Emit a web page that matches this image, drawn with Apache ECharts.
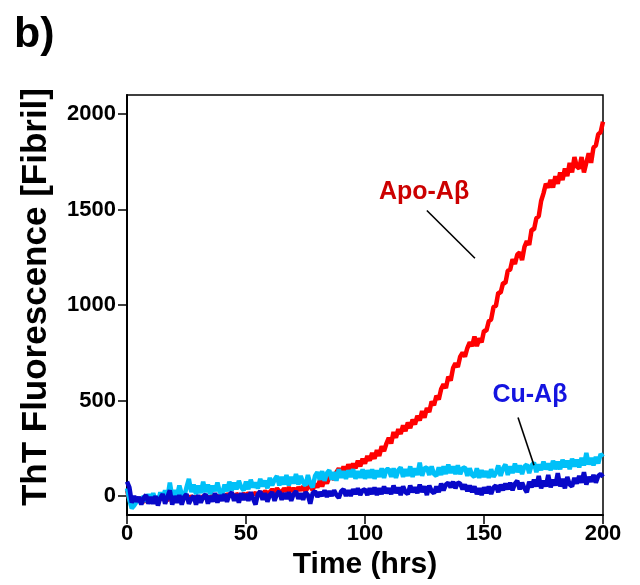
<!DOCTYPE html>
<html>
<head>
<meta charset="utf-8">
<script src="https://cdn.jsdelivr.net/npm/echarts@6/dist/echarts.min.js"></script>
<style>
html,body{margin:0;padding:0;background:#fff;}
#chart{width:640px;height:585px;}
</style>
</head>
<body>
<div id="chart"></div>
<script>
// Time grid (hours), one reading per hour from 0 to 200
const hours = Array.from({length: 201}, (_, i) => i);

const xTicks = [0, 50, 100, 150, 200];
const yTicks = [0, 500, 1000, 1500, 2000];

// Apo-Aβ (red)
const apoAbeta = [
30,-20,-45,-30,-15,-25,-10,-30,-20,-5,
-25,-15,-30,-10,-20,0,-15,-25,10,-10,
-20,-5,-15,-25,-5,-10,-20,0,-15,-5,
-10,-20,0,-10,-5,-15,5,-5,0,-10,
5,-5,10,0,5,-5,10,5,0,10,
5,15,0,10,15,5,20,10,25,15,
20,35,20,40,25,20,40,25,45,25,
40,25,45,30,50,25,45,55,30,65,
45,80,50,90,65,100,115,85,125,145,
110,155,125,165,140,170,145,185,155,195,
170,210,185,225,195,240,210,260,235,275,
305,275,335,305,350,325,370,340,385,355,
400,375,420,395,445,410,460,440,495,475,
525,505,560,585,565,625,605,670,695,675,
730,750,730,775,805,785,835,785,825,805,
865,865,915,925,990,995,1065,1065,1115,1115,
1180,1185,1240,1215,1265,1275,1235,1305,1335,1315,
1395,1395,1455,1465,1545,1585,1635,1615,1655,1615,
1675,1635,1695,1655,1715,1675,1745,1695,1775,1725,
1715,1775,1695,1745,1795,1745,1825,1835,1895,1905,
1960
];

// Cu-Aβ, light blue trace
const cuAbetaLight = [
40,-20,-65,-50,-30,-10,-40,0,-30,10,
-30,15,-20,-35,20,-15,30,-10,70,-5,
30,0,55,10,-5,45,90,20,60,10,
55,15,75,20,60,10,55,25,70,20,
10,60,25,75,30,70,35,80,45,30,
75,35,85,45,70,40,90,50,80,40,
95,55,85,105,55,100,60,110,55,100,
65,115,60,105,70,55,110,65,45,105,
125,85,130,80,120,135,85,125,80,140,
95,130,90,135,100,140,90,130,95,140,
90,135,95,140,90,135,100,145,95,140,
140,100,145,95,135,150,100,140,105,155,
100,145,110,175,105,145,150,110,155,115,
105,150,110,155,115,165,120,155,115,160,
115,145,150,105,145,110,100,145,95,135,
100,130,95,140,100,120,160,105,145,165,
110,155,120,170,125,160,115,155,165,120,
160,175,125,165,135,180,140,170,135,185,
140,180,140,190,150,185,140,195,155,190,
150,200,160,225,165,200,160,205,170,220,
205
];

// Cu-Aβ, dark blue trace
const cuAbetaDark = [
75,45,-35,0,-30,-5,-45,-10,5,-40,
-5,-40,0,-50,-10,10,-40,-5,30,-45,
0,-35,5,-45,-5,10,-40,-15,0,-45,
5,-35,-5,10,-40,0,-30,15,-35,5,
-25,10,-30,5,20,-25,10,-35,15,-20,
10,-25,20,-15,-45,10,25,-20,15,-30,
5,20,-25,10,25,-20,15,-15,20,-25,
10,25,-15,15,-20,20,5,-40,15,25,
-5,20,0,30,-5,25,0,30,5,-10,
25,35,0,30,0,35,10,40,5,30,
35,5,40,10,45,5,40,10,50,15,
40,10,55,15,45,5,50,20,10,55,
20,45,15,60,20,50,5,55,25,15,
50,20,65,30,60,70,45,75,40,70,
65,35,60,25,55,20,50,10,40,5,
45,15,50,10,45,55,20,60,30,65,
35,70,30,65,80,35,70,40,20,75,
45,85,50,105,40,80,50,110,45,85,
55,120,50,90,40,100,60,50,95,65,
105,70,125,60,100,75,110,70,105,115,
100
];

const annotations = [
  {text: 'Apo-Aβ', at: [124.8, 1594], color: '#cc0000', size: 25,
   line: [[126, 1495], [146.2, 1245]]},
  {text: 'Cu-Aβ', at: [169.3, 526], color: '#1414e0', size: 25,
   line: [[164.3, 411], [171, 161]]}
];

const FONT = 'Liberation Sans, Arial, sans-serif';

const pair = arr => hours.map((h, i) => [h, arr[i]]);

const chart = echarts.init(document.getElementById('chart'), null, {renderer: 'canvas'});

chart.setOption({
  animation: false,
  backgroundColor: '#fff',
  title: {
    text: 'b)', left: 9, top: 9,
    textStyle: {fontFamily: FONT, fontSize: 43, fontWeight: 'bold', color: '#000'}
  },
  grid: {
    left: 127, right: 37, top: 95, bottom: 68,
    show: true, borderColor: '#000', borderWidth: 1.5, backgroundColor: 'transparent'
  },
  xAxis: {
    type: 'value', min: 0, max: 200, interval: 50,
    name: 'Time (hrs)', nameLocation: 'middle', nameGap: 26,
    nameTextStyle: {fontFamily: FONT, fontSize: 30, fontWeight: 'bold', color: '#000'},
    axisLine: {show: true, onZero: false, lineStyle: {color: '#000', width: 2}},
    axisTick: {show: true, inside: false, length: 9, lineStyle: {color: '#000', width: 1.5}, customValues: xTicks},
    axisLabel: {margin: 8, fontFamily: FONT, fontSize: 22, fontWeight: 'bold', color: '#000',
                customValues: xTicks, formatter: v => String(v)},
    splitLine: {show: false}
  },
  yAxis: {
    type: 'value', min: -100, max: 2100,
    name: 'ThT Fluorescence [Fibril]', nameLocation: 'middle', nameGap: 73,
    nameTextStyle: {fontFamily: FONT, fontSize: 35, fontWeight: 'bold', color: '#000', padding: [0, 0, 0, 16]},
    axisLine: {show: true, onZero: false, lineStyle: {color: '#000', width: 2}},
    axisTick: {show: true, inside: false, length: 9, lineStyle: {color: '#000', width: 1.5}, customValues: yTicks},
    axisLabel: {margin: 11, fontFamily: FONT, fontSize: 22, fontWeight: 'bold', color: '#000',
                customValues: yTicks, formatter: v => String(v)},
    splitLine: {show: false}
  },
  series: [
    {
      name: 'Apo-Aβ', type: 'line', data: pair(apoAbeta), showSymbol: false, symbol: 'none',
      lineStyle: {color: '#ff0000', width: 4.5}, z: 2
    },
    {
      name: 'Cu-Aβ light', type: 'line', data: pair(cuAbetaLight), showSymbol: false, symbol: 'none',
      lineStyle: {color: '#00c0f8', width: 4.5}, z: 3
    },
    {
      name: 'Cu-Aβ dark', type: 'line', data: pair(cuAbetaDark), showSymbol: false, symbol: 'none',
      lineStyle: {color: '#0808c8', width: 4.5}, z: 4
    },
    {
      name: 'annotations', type: 'scatter', symbolSize: 0, z: 5,
      itemStyle: {opacity: 1},
      data: annotations.map(a => ({
        value: a.at,
        label: {show: true, position: 'inside', formatter: a.text, color: a.color, opacity: 1,
                fontFamily: FONT, fontSize: a.size, fontWeight: 'bold'}
      })),
      markLine: {
        silent: true, symbol: 'none', animation: false,
        label: {show: false},
        lineStyle: {color: '#000', width: 1.6, type: 'solid', opacity: 1},
        data: annotations.map(a => [{coord: a.line[0]}, {coord: a.line[1]}])
      }
    }
  ]
});
</script>
</body>
</html>
